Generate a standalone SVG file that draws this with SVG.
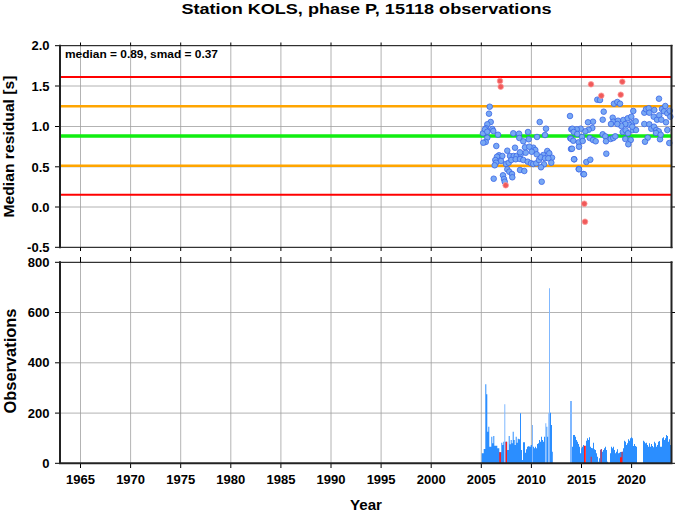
<svg xmlns="http://www.w3.org/2000/svg" width="678" height="511" viewBox="0 0 678 511">
<style>
text{font-family:"Liberation Sans",Arial,Helvetica,sans-serif;font-weight:bold;fill:#000}
.tl{font-size:13px;text-anchor:end}
.tx{font-size:13px;text-anchor:middle}
.grid{stroke:#a0a0a0;stroke-width:0.8;fill:none}
.tick{stroke:#000;stroke-width:1;fill:none}
.ax{stroke:#222;stroke-width:2;fill:none}
.axt{stroke:#000;stroke-width:1;fill:none}
.b circle{fill:#78a8f4;stroke:#3a66e6;stroke-width:0.8}
.r circle{fill:#f05a5a;stroke:#ff9a9a;stroke-width:0.8}
</style>
<rect width="678" height="511" fill="#fff"/>
<text x="366.5" y="14" font-size="15" text-anchor="middle" textLength="370" lengthAdjust="spacingAndGlyphs">Station KOLS, phase P, 15118 observations</text>

<g id="panel-residual">
<path class="grid" d="M80.5 45.7V247.3M130.6 45.7V247.3M180.7 45.7V247.3M230.8 45.7V247.3M280.9 45.7V247.3M331 45.7V247.3M381.1 45.7V247.3M431.2 45.7V247.3M481.3 45.7V247.3M531.4 45.7V247.3M581.5 45.7V247.3M631.6 45.7V247.3M60 86H671.5M60 126.5H671.5M60 166.8H671.5M60 207H671.5"/>
<g id="ref-lines">
<line x1="60" y1="77" x2="671.5" y2="77" stroke="#ff0000" stroke-width="2"/>
<line x1="60" y1="106.3" x2="671.5" y2="106.3" stroke="#ffa500" stroke-width="2.6"/>
<line x1="60" y1="136" x2="671.5" y2="136" stroke="#11ee11" stroke-width="3.4"/>
<line x1="60" y1="165.7" x2="671.5" y2="165.7" stroke="#ffa500" stroke-width="2.6"/>
<line x1="60" y1="194.7" x2="671.5" y2="194.7" stroke="#ff0000" stroke-width="2"/>
</g>
<g class="b">
<circle cx="489.7" cy="106.7" r="2.8"/><circle cx="489" cy="113.7" r="2.8"/><circle cx="490.7" cy="122" r="2.8"/><circle cx="487.3" cy="124.3" r="2.8"/><circle cx="486" cy="128.3" r="2.8"/><circle cx="492.3" cy="129" r="2.8"/><circle cx="493.3" cy="131" r="2.8"/><circle cx="483" cy="133.3" r="2.8"/><circle cx="485" cy="129.3" r="2.8"/><circle cx="487.3" cy="131.7" r="2.8"/><circle cx="498" cy="134.7" r="2.8"/><circle cx="487.3" cy="137.7" r="2.8"/><circle cx="485.7" cy="142" r="2.8"/><circle cx="483.3" cy="142.7" r="2.8"/><circle cx="496.3" cy="146" r="2.8"/><circle cx="493.7" cy="178.7" r="2.8"/><circle cx="539.7" cy="122" r="2.8"/><circle cx="546" cy="128.7" r="2.8"/><circle cx="545" cy="135" r="2.8"/><circle cx="513.3" cy="133.3" r="2.8"/><circle cx="519" cy="133.7" r="2.8"/><circle cx="528" cy="132" r="2.8"/><circle cx="519.3" cy="138" r="2.8"/><circle cx="528.7" cy="139.3" r="2.8"/><circle cx="523.3" cy="141.3" r="2.8"/><circle cx="537" cy="137" r="2.8"/><circle cx="515" cy="147.7" r="2.8"/><circle cx="507.3" cy="150.7" r="2.8"/><circle cx="499" cy="155.3" r="2.8"/><circle cx="502.3" cy="156" r="2.8"/><circle cx="497" cy="156.7" r="2.8"/><circle cx="510" cy="156" r="2.8"/><circle cx="513.7" cy="156" r="2.8"/><circle cx="516.7" cy="156" r="2.8"/><circle cx="520.7" cy="154.3" r="2.8"/><circle cx="525.7" cy="152.7" r="2.8"/><circle cx="533.3" cy="147.7" r="2.8"/><circle cx="535.3" cy="150" r="2.8"/><circle cx="531.7" cy="151.7" r="2.8"/><circle cx="547.3" cy="151" r="2.8"/><circle cx="549.3" cy="153.3" r="2.8"/><circle cx="543.3" cy="155" r="2.8"/><circle cx="552" cy="157.7" r="2.8"/><circle cx="495.3" cy="160" r="2.8"/><circle cx="501" cy="161" r="2.8"/><circle cx="496" cy="162.7" r="2.8"/><circle cx="494.7" cy="165.3" r="2.8"/><circle cx="506" cy="164" r="2.8"/><circle cx="508.7" cy="162.7" r="2.8"/><circle cx="511.3" cy="160" r="2.8"/><circle cx="515.7" cy="159.3" r="2.8"/><circle cx="520" cy="159" r="2.8"/><circle cx="523.3" cy="160" r="2.8"/><circle cx="527.7" cy="161.7" r="2.8"/><circle cx="531" cy="163.3" r="2.8"/><circle cx="533.3" cy="164" r="2.8"/><circle cx="536.3" cy="163.3" r="2.8"/><circle cx="539" cy="160" r="2.8"/><circle cx="540.7" cy="157.3" r="2.8"/><circle cx="545" cy="158.3" r="2.8"/><circle cx="548.3" cy="158.3" r="2.8"/><circle cx="551.3" cy="162.7" r="2.8"/><circle cx="544" cy="164.3" r="2.8"/><circle cx="541" cy="167.3" r="2.8"/><circle cx="507.3" cy="169.3" r="2.8"/><circle cx="509.3" cy="171.7" r="2.8"/><circle cx="520" cy="170" r="2.8"/><circle cx="524.3" cy="171" r="2.8"/><circle cx="503" cy="175.3" r="2.8"/><circle cx="512" cy="174" r="2.8"/><circle cx="512.3" cy="177.3" r="2.8"/><circle cx="504" cy="179" r="2.8"/><circle cx="504.7" cy="181.7" r="2.8"/><circle cx="541.7" cy="181.7" r="2.8"/><circle cx="520" cy="152.3" r="2.8"/><circle cx="525" cy="147.3" r="2.8"/><circle cx="529.3" cy="146.7" r="2.8"/><circle cx="536.7" cy="154.3" r="2.8"/>
<circle cx="570" cy="116" r="2.8"/><circle cx="571.3" cy="129.3" r="2.8"/><circle cx="570.3" cy="138.3" r="2.8"/><circle cx="571" cy="149" r="2.8"/><circle cx="574.3" cy="159.3" r="2.8"/><circle cx="578.7" cy="169" r="2.8"/><circle cx="583.3" cy="174" r="2.8"/>
<circle cx="597.3" cy="99.7" r="2.8"/><circle cx="600" cy="100" r="2.8"/><circle cx="614" cy="103.7" r="2.8"/><circle cx="617.3" cy="102" r="2.8"/><circle cx="620" cy="103.7" r="2.8"/><circle cx="659" cy="98.7" r="2.8"/><circle cx="603.7" cy="111.7" r="2.8"/><circle cx="602.7" cy="119.7" r="2.8"/><circle cx="612.7" cy="117.7" r="2.8"/><circle cx="613.3" cy="121.7" r="2.8"/><circle cx="611" cy="124" r="2.8"/><circle cx="618" cy="120.7" r="2.8"/><circle cx="623.3" cy="120" r="2.8"/><circle cx="627.7" cy="118.3" r="2.8"/><circle cx="631.3" cy="116.7" r="2.8"/><circle cx="633.3" cy="111" r="2.8"/><circle cx="632" cy="123.3" r="2.8"/><circle cx="629" cy="124.7" r="2.8"/><circle cx="625.3" cy="124" r="2.8"/><circle cx="621.3" cy="126" r="2.8"/><circle cx="617.3" cy="124" r="2.8"/><circle cx="593" cy="121.7" r="2.8"/><circle cx="588" cy="122.3" r="2.8"/><circle cx="592.3" cy="128" r="2.8"/><circle cx="588.7" cy="129.7" r="2.8"/><circle cx="585.3" cy="131.3" r="2.8"/><circle cx="580.7" cy="128.7" r="2.8"/><circle cx="576.7" cy="129.3" r="2.8"/><circle cx="572.3" cy="128.7" r="2.8"/><circle cx="573.7" cy="132" r="2.8"/><circle cx="577.3" cy="134" r="2.8"/><circle cx="582" cy="137" r="2.8"/><circle cx="571" cy="138.7" r="2.8"/><circle cx="573.3" cy="140.7" r="2.8"/><circle cx="578.7" cy="142.3" r="2.8"/><circle cx="582.7" cy="141" r="2.8"/><circle cx="589.7" cy="138" r="2.8"/><circle cx="593" cy="140" r="2.8"/><circle cx="595.7" cy="141.3" r="2.8"/><circle cx="602.7" cy="134.3" r="2.8"/><circle cx="605.3" cy="136.3" r="2.8"/><circle cx="606" cy="141.3" r="2.8"/><circle cx="610.7" cy="139" r="2.8"/><circle cx="613.3" cy="138" r="2.8"/><circle cx="615.3" cy="136.3" r="2.8"/><circle cx="622.7" cy="132" r="2.8"/><circle cx="625.7" cy="130.3" r="2.8"/><circle cx="628" cy="133.3" r="2.8"/><circle cx="632.7" cy="130" r="2.8"/><circle cx="636" cy="130" r="2.8"/><circle cx="632.3" cy="126.7" r="2.8"/><circle cx="625.3" cy="139" r="2.8"/><circle cx="630.7" cy="140" r="2.8"/><circle cx="628.3" cy="144.3" r="2.8"/><circle cx="572" cy="148.7" r="2.8"/><circle cx="579" cy="146.7" r="2.8"/><circle cx="606.3" cy="153.7" r="2.8"/><circle cx="574" cy="159.3" r="2.8"/><circle cx="586.3" cy="162" r="2.8"/><circle cx="590.3" cy="159.7" r="2.8"/><circle cx="579" cy="169.3" r="2.8"/><circle cx="584" cy="174.3" r="2.8"/><circle cx="644.3" cy="112.7" r="2.8"/><circle cx="646" cy="109.3" r="2.8"/><circle cx="648.7" cy="108.3" r="2.8"/><circle cx="649.3" cy="112.7" r="2.8"/><circle cx="653.7" cy="116.7" r="2.8"/><circle cx="657" cy="119.7" r="2.8"/><circle cx="659.3" cy="115.3" r="2.8"/><circle cx="654.3" cy="110" r="2.8"/><circle cx="662" cy="109" r="2.8"/><circle cx="665.3" cy="106" r="2.8"/><circle cx="664" cy="111.3" r="2.8"/><circle cx="667.3" cy="113.3" r="2.8"/><circle cx="669.7" cy="110.7" r="2.8"/><circle cx="670.3" cy="116.7" r="2.8"/><circle cx="666" cy="122.3" r="2.8"/><circle cx="661.3" cy="119.7" r="2.8"/><circle cx="644.3" cy="124" r="2.8"/><circle cx="649.3" cy="124.3" r="2.8"/><circle cx="651.3" cy="128.7" r="2.8"/><circle cx="654" cy="126.7" r="2.8"/><circle cx="656.3" cy="130" r="2.8"/><circle cx="658.7" cy="131.3" r="2.8"/><circle cx="656" cy="133" r="2.8"/><circle cx="647.7" cy="137.7" r="2.8"/><circle cx="645" cy="141.7" r="2.8"/><circle cx="660" cy="139.3" r="2.8"/><circle cx="660.7" cy="134.7" r="2.8"/><circle cx="667.3" cy="130" r="2.8"/><circle cx="669.3" cy="143" r="2.8"/><circle cx="635.7" cy="121.3" r="2.8"/>
</g>
<g class="r">
<circle cx="500" cy="81" r="2.8"/><circle cx="500.7" cy="86.7" r="2.8"/><circle cx="505.7" cy="185.3" r="2.8"/><circle cx="591" cy="84.3" r="2.8"/><circle cx="622.3" cy="81.7" r="2.8"/><circle cx="601.3" cy="95.7" r="2.8"/><circle cx="620.7" cy="94.7" r="2.8"/><circle cx="584.3" cy="203.7" r="2.8"/><circle cx="585" cy="221.7" r="2.8"/>
</g>
<path class="tick" d="M55 45.7H60M55 86H60M55 126.5H60M55 166.8H60M55 207H60M55 247.3H60M671.5 86H675M671.5 126.5H675M671.5 166.8H675M671.5 207H675M80.5 42.5V45.7M130.6 42.5V45.7M180.7 42.5V45.7M230.8 42.5V45.7M280.9 42.5V45.7M331 42.5V45.7M381.1 42.5V45.7M431.2 42.5V45.7M481.3 42.5V45.7M531.4 42.5V45.7M581.5 42.5V45.7M631.6 42.5V45.7M80.5 247.3V251M130.6 247.3V251M180.7 247.3V251M230.8 247.3V251M280.9 247.3V251M331 247.3V251M381.1 247.3V251M431.2 247.3V251M481.3 247.3V251M531.4 247.3V251M581.5 247.3V251M631.6 247.3V251"/>
<path class="axt" d="M60 45.7H672.5M60 247.3H672.5"/>
<path class="ax" d="M60 44.7V248.3M671.5 44.7V248.3"/>
<text x="65" y="57.5" font-size="11" textLength="153" lengthAdjust="spacingAndGlyphs">median = 0.89, smad = 0.37</text>
<text class="tl" x="49.5" y="50.4">2.0</text>
<text class="tl" x="49.5" y="90.7">1.5</text>
<text class="tl" x="49.5" y="131.2">1.0</text>
<text class="tl" x="49.5" y="171.5">0.5</text>
<text class="tl" x="49.5" y="211.7">0.0</text>
<text class="tl" x="49.5" y="252">-0.5</text>
<text x="14" y="146.5" font-size="15.5" text-anchor="middle" transform="rotate(-90 14 146.5)" textLength="142" lengthAdjust="spacingAndGlyphs">Median residual [s]</text>
</g>

<g id="panel-observations">
<path class="grid" d="M80.5 262.3V463.3M130.6 262.3V463.3M180.7 262.3V463.3M230.8 262.3V463.3M280.9 262.3V463.3M331 262.3V463.3M381.1 262.3V463.3M431.2 262.3V463.3M481.3 262.3V463.3M531.4 262.3V463.3M581.5 262.3V463.3M631.6 262.3V463.3M60 312.5H671.5M60 362.8H671.5M60 413.1H671.5"/>
<path fill="#2b8eff" d="M481.7 463.3V453.3h2V463.3zM483.7 463.3V449h1.6V463.3zM485.3 463.3V384.3h1V463.3zM486.3 463.3V394.3h1V463.3zM487.3 463.3V431.7h1V463.3zM488.3 463.3V426.7h1V463.3zM489.3 463.3V446.7h2V463.3zM491.3 463.3V436.7h1V463.3zM492.3 463.3V443.3h1V463.3zM493.3 463.3V436h1V463.3zM494.3 463.3V445.7h3V463.3zM497.3 463.3V448.3h2V463.3zM499.3 463.3V452.3h2V463.3zM501.3 463.3V442.7h1V463.3zM502.3 463.3V445h1V463.3zM503.3 463.3V441.7h1V463.3zM505.3 463.3V441.7h2V463.3zM507.3 463.3V450h1.4V463.3zM508.7 463.3V436h1V463.3zM509.7 463.3V444.3h1V463.3zM510.7 463.3V440h1V463.3zM511.7 463.3V443.3h1V463.3zM512.7 463.3V431.7h1V463.3zM513.7 463.3V440h1V463.3zM514.7 463.3V445h1V463.3zM515.7 463.3V436.7h1V463.3zM516.7 463.3V442.7h1V463.3zM517.7 463.3V438.7h1V463.3zM518.7 463.3V439.3h1.3V463.3zM520 463.3V413.3h1V463.3zM521 463.3V450h1V463.3zM522 463.3V460h1V463.3zM523 463.3V442.3h2V463.3zM525 463.3V452.7h1V463.3zM526 463.3V449.3h1V463.3zM527 463.3V446.7h1.3V463.3zM528.3 463.3V446h1V463.3zM529.3 463.3V446.7h1.4V463.3zM530.7 463.3V445h1.3V463.3zM533 463.3V446.7h1V463.3zM534 463.3V448.3h1V463.3zM535 463.3V446.7h1V463.3zM536 463.3V448.3h1V463.3zM537 463.3V444h1V463.3zM538 463.3V443.3h1V463.3zM539 463.3V440h1V463.3zM540 463.3V441.7h1V463.3zM541 463.3V436.7h1V463.3zM542 463.3V440h1V463.3zM543 463.3V441.7h1V463.3zM544 463.3V436.7h1.3V463.3zM546.3 463.3V426.7h1V463.3zM547.3 463.3V436.7h1V463.3zM550 463.3V412.7h1V463.3zM551 463.3V425h1V463.3zM552 463.3V451.7h0.8V463.3z
M572 463.3V446.7h1V463.3zM573 463.3V435h2V463.3zM575 463.3V436.7h1V463.3zM576 463.3V440h1V463.3zM577 463.3V441.7h1V463.3zM578 463.3V444h1V463.3zM579 463.3V446.7h1V463.3zM580 463.3V453.3h1V463.3zM581 463.3V448.3h1V463.3zM582 463.3V446.7h1V463.3zM583 463.3V445h1V463.3zM586 463.3V440.7h1V463.3zM587 463.3V438.3h1V463.3zM588 463.3V440h1V463.3zM589 463.3V437.3h1V463.3zM590 463.3V446.7h1V463.3zM591 463.3V448h1V463.3zM592 463.3V448.3h1V463.3zM593 463.3V442.7h1V463.3zM594 463.3V449.3h1V463.3zM595 463.3V450h1V463.3zM596 463.3V453.3h1V463.3zM597 463.3V456.7h1V463.3zM598 463.3V461.7h1V463.3zM599 463.3V458.3h1V463.3zM600 463.3V450h1V463.3zM601 463.3V449h1V463.3zM602 463.3V451.7h1V463.3zM603 463.3V450h1V463.3zM604 463.3V448.3h1V463.3zM605 463.3V446.7h1V463.3zM606 463.3V450h1V463.3zM607 463.3V461.7h1V463.3zM610 463.3V453.3h1V463.3zM611 463.3V446.7h1V463.3zM612 463.3V448.3h1V463.3zM613 463.3V446.7h1V463.3zM614 463.3V450h1V463.3zM615 463.3V453.3h1V463.3zM616 463.3V451.7h1V463.3zM617 463.3V449.3h1V463.3zM618 463.3V453.3h1V463.3zM619 463.3V452.7h1V463.3zM620 463.3V452h2V463.3zM622 463.3V451.7h1V463.3zM623 463.3V448.3h1V463.3zM624 463.3V440.7h1V463.3zM625 463.3V441.7h1V463.3zM626 463.3V445h1V463.3zM627 463.3V443.3h1V463.3zM628 463.3V439.3h1V463.3zM629 463.3V440.7h1V463.3zM630 463.3V438.3h1V463.3zM631 463.3V437.3h1V463.3zM632 463.3V438.3h1V463.3zM633 463.3V446h1V463.3zM634 463.3V444h1V463.3zM635 463.3V446h1V463.3zM636 463.3V446.7h1V463.3z
M643 463.3V440.7h1V463.3zM644 463.3V441.7h1V463.3zM645 463.3V443.3h1V463.3zM646 463.3V442.7h1V463.3zM647 463.3V445h1V463.3zM648 463.3V446.7h1V463.3zM649 463.3V443.3h1V463.3zM650 463.3V446.7h1V463.3zM651 463.3V444h1V463.3zM652 463.3V446h1V463.3zM653 463.3V447.3h1V463.3zM654 463.3V441.7h1V463.3zM655 463.3V443.3h1V463.3zM656 463.3V446.7h1V463.3zM657 463.3V445h1V463.3zM658 463.3V441.7h1V463.3zM659 463.3V441h1V463.3zM660 463.3V446.7h2V463.3zM662 463.3V438.3h1V463.3zM663 463.3V437.3h1V463.3zM664 463.3V440h1V463.3zM665 463.3V438.3h1V463.3zM666 463.3V435h1V463.3zM667 463.3V436h1V463.3zM668 463.3V441.7h1V463.3zM669 463.3V439.3h1V463.3zM670 463.3V445h1.5V463.3z"/>
<path fill="#80b8ff" d="M504.3 463.3V404.3h1V463.3zM532 463.3V425h1V463.3zM545.3 463.3V423.3h1V463.3zM548.3 463.3V413.3h0.7V463.3zM549 463.3V288.3h1V463.3zM570 463.3V401h2V463.3z"/>
<path fill="#ff1a1a" d="M499.3 463.3V452.3h1.6V463.3zM505.6 463.3V441.7h1.4V463.3zM584 463.3V445.7h1.8V463.3zM590.7 463.3V456.7h0.9V463.3zM600.6 463.3V449.3h1V463.3zM620 463.3V457.3h1.6V463.3zM621.6 463.3V451.7h0.9V463.3z"/>
<path class="tick" d="M55 262.3H60M55 312.5H60M55 362.8H60M55 413.1H60M55 463.3H60M671.5 312.5H675M671.5 362.8H675M671.5 413.1H675M671.5 463.3H675M80.5 257V262.3M130.6 257V262.3M180.7 257V262.3M230.8 257V262.3M280.9 257V262.3M331 257V262.3M381.1 257V262.3M431.2 257V262.3M481.3 257V262.3M531.4 257V262.3M581.5 257V262.3M631.6 257V262.3M80.5 463.3V468M130.6 463.3V468M180.7 463.3V468M230.8 463.3V468M280.9 463.3V468M331 463.3V468M381.1 463.3V468M431.2 463.3V468M481.3 463.3V468M531.4 463.3V468M581.5 463.3V468M631.6 463.3V468"/>
<path class="axt" d="M60 262.3H672.5"/>
<path class="ax" d="M59 463.3H672.5M60 261.3V464.3M671.5 261.3V464.3"/>
<text class="tl" x="49.5" y="266.8">800</text>
<text class="tl" x="49.5" y="317">600</text>
<text class="tl" x="49.5" y="367.3">400</text>
<text class="tl" x="49.5" y="417.6">200</text>
<text class="tl" x="49.5" y="467.8">0</text>
<text x="16" y="361" font-size="16" text-anchor="middle" transform="rotate(-90 16 361)" textLength="105" lengthAdjust="spacingAndGlyphs">Observations</text>
<text class="tx" x="80.5" y="484">1965</text>
<text class="tx" x="130.6" y="484">1970</text>
<text class="tx" x="180.7" y="484">1975</text>
<text class="tx" x="230.8" y="484">1980</text>
<text class="tx" x="280.9" y="484">1985</text>
<text class="tx" x="331" y="484">1990</text>
<text class="tx" x="381.1" y="484">1995</text>
<text class="tx" x="431.2" y="484">2000</text>
<text class="tx" x="481.3" y="484">2005</text>
<text class="tx" x="531.4" y="484">2010</text>
<text class="tx" x="581.5" y="484">2015</text>
<text class="tx" x="631.6" y="484">2020</text>
<text x="366" y="509.5" font-size="15" text-anchor="middle" textLength="32" lengthAdjust="spacingAndGlyphs">Year</text>
</g>
</svg>
